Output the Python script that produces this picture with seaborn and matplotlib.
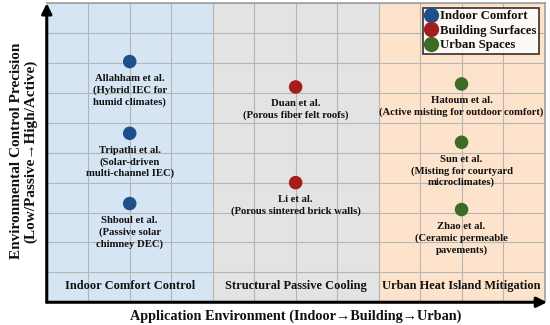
import matplotlib
matplotlib.use("Agg")
import matplotlib.pyplot as plt
import seaborn as sns
import pandas as pd
from matplotlib.lines import Line2D

# ---- data ----
categories = ["Indoor Comfort", "Indoor Comfort", "Indoor Comfort",
              "Building Surfaces", "Building Surfaces",
              "Urban Spaces", "Urban Spaces", "Urban Spaces"]
x_env = [2, 2, 2, 6, 6, 10, 10, 10]
y_prec = [8.05, 5.65, 3.3, 7.2, 4.0, 7.3, 5.35, 3.1]
labels = ["Allahham et al.\n(Hybrid IEC for\nhumid climates)",
          "Tripathi et al.\n(Solar-driven\nmulti-channel IEC)",
          "Shboul et al.\n(Passive solar\nchimney DEC)",
          "Duan et al.\n(Porous fiber felt roofs)",
          "Li et al.\n(Porous sintered brick walls)",
          "Hatoum et al.\n(Active misting for outdoor comfort)",
          "Sun et al.\n(Misting for courtyard\nmicroclimates)",
          "Zhao et al.\n(Ceramic permeable\npavements)"]
region_names = ["Indoor Comfort Control", "Structural Passive Cooling", "Urban Heat Island Mitigation"]
region_spans = [(0, 4), (4, 8), (8, 12)]
region_colors = ["#d5e5f3", "#e3e3e3", "#fde3cb"]
palette = {"Indoor Comfort": "#1f4f8a", "Building Surfaces": "#a31d1d", "Urban Spaces": "#3c6b26"}
x_title = "Application Environment (Indoor\u2192Building\u2192Urban)"
y_title = "Environmental Control Precision\n(Low/Passive\u2192High/Active)"

df = pd.DataFrame({"env": x_env, "prec": y_prec, "cat": categories, "label": labels})

sns.set_theme(style="white")
plt.rcParams['font.family'] = ['Liberation Serif', 'DejaVu Serif']
plt.rcParams['text.color'] = '#111111'

fig, ax = plt.subplots(figsize=(5.5, 3.25), dpi=100)
fig.subplots_adjust(left=0.085, right=0.99, top=0.99, bottom=0.07)

for (a, b), c in zip(region_spans, region_colors):
    ax.axvspan(a, b, color=c, zorder=0, lw=0)

sns.scatterplot(data=df, x="env", y="prec", hue="cat", palette=palette, s=95,
                edgecolor="none", ax=ax, zorder=3, legend=False)

ax.set_xlim(0, 12)
ax.set_ylim(0, 10)
ax.set_xticks(range(0, 13))
ax.set_yticks(range(0, 11))
ax.grid(True, color="#b5b5b5", lw=0.8, zorder=1)
ax.set_axisbelow(True)
ax.tick_params(labelbottom=False, labelleft=False, length=0)
ax.set_xlabel("")
ax.set_ylabel("")

for _, r in df.iterrows():
    ax.annotate(r["label"], (r["env"], r["prec"]), xytext=(0, -9), textcoords="offset points",
                ha="center", va="top", fontsize=7.7, fontweight="bold", linespacing=1.3, zorder=4,
                color="#111111")

for (a, b), name in zip(region_spans, region_names):
    ax.text((a + b) / 2, 0.55, name, ha="center", va="center", fontsize=8.9, fontweight="bold",
            color="#111111")

for s in ["top", "right"]:
    ax.spines[s].set_color("#a0a0a0")
    ax.spines[s].set_linewidth(1.2)
for s in ["left", "bottom"]:
    ax.spines[s].set_visible(False)

# axis arrows
ax.annotate("", xy=(1.005, 0), xytext=(0, 0), xycoords="axes fraction",
            arrowprops=dict(arrowstyle="-|>,head_length=0.5,head_width=0.25", color="black", lw=2.2,
                            shrinkA=0, shrinkB=0), annotation_clip=False)
ax.annotate("", xy=(0, 1.0), xytext=(0, 0), xycoords="axes fraction",
            arrowprops=dict(arrowstyle="-|>,head_length=0.5,head_width=0.25", color="black", lw=2.2,
                            shrinkA=0, shrinkB=0), annotation_clip=False)

fig.text(296 / 550, 1 - 316 / 325, x_title, ha="center", va="center", fontsize=10.3,
         fontweight="bold", color="#111111")
fig.text(24 / 550, 1 - 151 / 325, y_title, ha="center", va="center", rotation=90,
         fontsize=11, fontweight="bold", linespacing=1.12, color="#111111")

handles = [Line2D([], [], marker="o", ls="", color=palette[k], markersize=10) for k in palette]
leg = ax.legend(handles, list(palette.keys()), loc="upper right", bbox_to_anchor=(0.988, 0.985),
                fontsize=9.2, frameon=True, fancybox=False, edgecolor="black", handletextpad=0.2,
                borderpad=0.2, labelspacing=0.2, handlelength=0.9, borderaxespad=0)
leg.get_frame().set_linewidth(1.2)
for t in leg.get_texts():
    t.set_fontweight("bold")
    t.set_color("#111111")

fig.savefig("out.png", dpi=100)
